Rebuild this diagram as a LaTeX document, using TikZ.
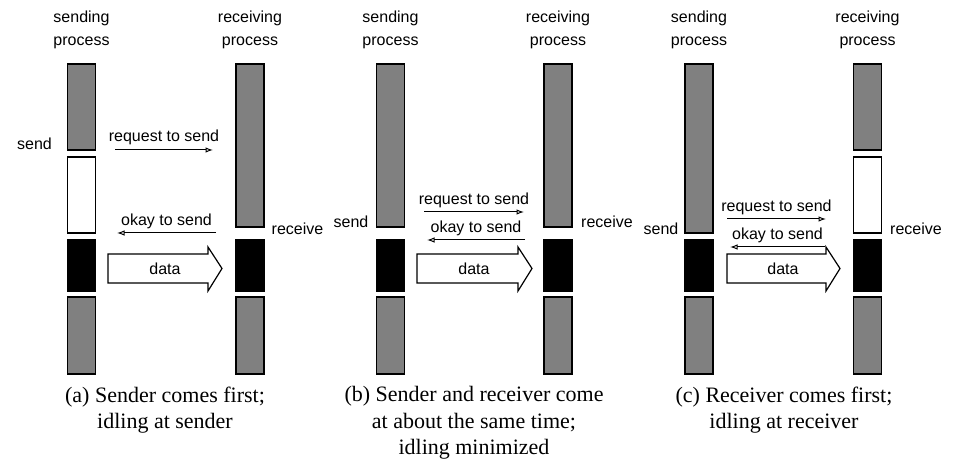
\documentclass[tikz,border=0pt]{standalone}
\usepackage{fontspec}
\setmainfont{Liberation Serif}
\setsansfont{Liberation Sans}
\usetikzlibrary{arrows.meta}
\definecolor{busygray}{RGB}{128,128,128}
\tikzset{ 
   bar/.style ={
      rectangle, draw, line width=1.2pt, minimum width=28pt, inner sep=0pt,
   },
   busy/.style ={bar, fill=busygray},
   idle/.style ={bar, fill=white},
   xfer/.style ={bar, fill=black},
   proc/.style ={
      font=\sffamily\fontsize{16}{23}\selectfont, align=center, inner sep=0pt,
   },
   evt/.style ={font=\sffamily\fontsize{16}{19}\selectfont, inner sep=0pt},
   msgtxt/.style ={font=\sffamily\fontsize{16}{19}\selectfont, inner sep=0pt},
   subcap/.style ={
      font=\fontsize{22}{26.5}\selectfont, align=center, inner sep=0pt,
   },
   msg/.style ={
      -{Latex[open,length=7.5pt,width=5.5pt]}, line width=1pt, color=black,
   },
   dataarrow/.style ={draw, line width=1.2pt, fill=white, line join=miter},
}

\begin{document}
\begin{tikzpicture}

      \useasboundingbox (0pt,0pt) rectangle (955pt,-470pt);

      % (a) sender comes first
      \node[proc] (a-shead) at (81.5pt,-29.5pt) {sending\\process};
      \node[proc] (a-rhead) at (250pt,-29.5pt) {receiving\\process};

      \node[busy, minimum height=86pt]  (a-s1) at (81.5pt,-107pt) {};
      \node[idle, minimum height=76pt]  (a-s2) at (81.5pt,-195pt) {};
      \node[xfer, minimum height=51pt]  (a-s3) at (81.5pt,-265.5pt) {};
      \node[busy, minimum height=77pt]  (a-s4) at (81.5pt,-335.5pt) {};

      \node[busy, minimum height=163pt] (a-r1) at (250pt,-145.5pt) {};
      \node[xfer, minimum height=51pt]  (a-r3) at (250pt,-265.5pt) {};
      \node[busy, minimum height=77pt]  (a-r4) at (250pt,-335.5pt) {};

      \node[evt] (a-send) at (34.5pt,-144pt) {send};
      \node[evt] (a-recv) at (297.5pt,-229pt) {receive};

      \coordinate (a-rq0) at (115pt,-150pt);
      \coordinate (a-rq1) at (213pt,-150pt);
      \coordinate (a-ok0) at (216pt,-233pt);
      \coordinate (a-ok1) at (117pt,-233pt);
      \draw[msg] (a-rq0) -- node[msgtxt, above=5pt] (a-req) {request to send} (a-rq1);
      \draw[msg] (a-ok0) -- node[msgtxt, above=4pt] (a-ok) {okay to send} (a-ok1);

      \draw[dataarrow] (108pt,-254pt) -- (208pt,-254pt) -- (208pt,-247pt)
         -- (222pt,-268.5pt) -- (208pt,-291pt) -- (208pt,-283pt)
         -- (108pt,-283pt) -- cycle;
      \node[msgtxt] (a-data) at (165pt,-269pt) {data};

      \node[subcap] (a-cap) at (165pt,-410pt) {(a) Sender comes first;\\idling at sender};

      % (b) both come at about the same time
      \node[proc] (b-shead) at (390.5pt,-29.5pt) {sending\\process};
      \node[proc] (b-rhead) at (558pt,-29.5pt) {receiving\\process};

      \node[busy, minimum height=163pt] (b-s1) at (390.5pt,-145.5pt) {};
      \node[xfer, minimum height=51pt]  (b-s3) at (390.5pt,-265.5pt) {};
      \node[busy, minimum height=77pt]  (b-s4) at (390.5pt,-335.5pt) {};

      \node[busy, minimum height=163pt] (b-r1) at (558pt,-145.5pt) {};
      \node[xfer, minimum height=51pt]  (b-r3) at (558pt,-265.5pt) {};
      \node[busy, minimum height=77pt]  (b-r4) at (558pt,-335.5pt) {};

      \node[evt] (b-send) at (351pt,-222pt) {send};
      \node[evt] (b-recv) at (607pt,-222pt) {receive};

      \coordinate (b-rq0) at (424pt,-212pt);
      \coordinate (b-rq1) at (524pt,-212pt);
      \coordinate (b-ok0) at (525pt,-240pt);
      \coordinate (b-ok1) at (427pt,-240pt);
      \draw[msg] (b-rq0) -- node[msgtxt, above=4pt] (b-req) {request to send} (b-rq1);
      \draw[msg] (b-ok0) -- node[msgtxt, above=4pt] (b-ok) {okay to send} (b-ok1);

      \draw[dataarrow] (417pt,-254pt) -- (518pt,-254pt) -- (518pt,-247pt)
         -- (532pt,-268.5pt) -- (518pt,-291pt) -- (518pt,-283pt)
         -- (417pt,-283pt) -- cycle;
      \node[msgtxt] (b-data) at (474pt,-269pt) {data};

      \node[subcap] (b-cap) at (474pt,-423pt) {(b) Sender and receiver come\\at about the same time;\\idling minimized};

      % (c) receiver comes first
      \node[proc] (c-shead) at (699pt,-29.5pt) {sending\\process};
      \node[proc] (c-rhead) at (867.5pt,-29.5pt) {receiving\\process};

      \node[busy, minimum height=169pt] (c-s1) at (699pt,-148.5pt) {};
      \node[xfer, minimum height=51pt]  (c-s3) at (699pt,-265.5pt) {};
      \node[busy, minimum height=77pt]  (c-s4) at (699pt,-335.5pt) {};

      \node[busy, minimum height=86pt]  (c-r1) at (867.5pt,-107pt) {};
      \node[idle, minimum height=76pt]  (c-r2) at (867.5pt,-195pt) {};
      \node[xfer, minimum height=51pt]  (c-r3) at (867.5pt,-265.5pt) {};
      \node[busy, minimum height=77pt]  (c-r4) at (867.5pt,-335.5pt) {};

      \node[evt] (c-send) at (661pt,-229pt) {send};
      \node[evt] (c-recv) at (916pt,-229pt) {receive};

      \coordinate (c-rq0) at (727pt,-219pt);
      \coordinate (c-rq1) at (826pt,-219pt);
      \coordinate (c-ok0) at (825pt,-247pt);
      \coordinate (c-ok1) at (730pt,-247pt);
      \draw[msg] (c-rq0) -- node[msgtxt, above=4pt] (c-req) {request to send} (c-rq1);

      \draw[dataarrow] (727pt,-254pt) -- (826pt,-254pt) -- (826pt,-247pt)
         -- (840pt,-268.5pt) -- (826pt,-291pt) -- (826pt,-283pt)
         -- (727pt,-283pt) -- cycle;
      \node[msgtxt] (c-data) at (783pt,-269pt) {data};
      \draw[msg] (c-ok0) -- node[msgtxt, above=4pt] (c-ok) {okay to send} (c-ok1);

      \node[subcap] (c-cap) at (784pt,-410pt) {(c) Receiver comes first;\\idling at receiver};

\end{tikzpicture}
\end{document}
